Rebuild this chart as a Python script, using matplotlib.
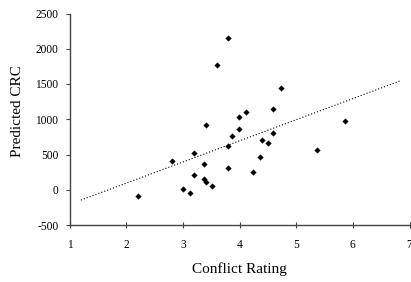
import numpy as np
import matplotlib
matplotlib.use("Agg")
import matplotlib.pyplot as plt

conflict_rating = [3.79, 3.60, 3.40, 3.99, 3.99, 3.87, 3.79, 3.20, 2.80, 3.37,
                   3.79, 3.20, 3.37, 3.40, 3.51, 3.00, 3.12, 2.20, 4.74, 4.59,
                   4.11, 5.86, 4.39, 4.59, 4.50, 5.37, 4.37, 4.24]
predicted_crc = [2150, 1770, 915, 1035, 868, 765, 618, 515, 410, 362,
                 314, 208, 155, 108, 60, 14, -42, -85, 1440, 1143,
                 1100, 978, 712, 812, 665, 557, 458, 255]
trend_x = [1.2, 6.83]
x_ticks = [1, 2, 3, 4, 5, 6, 7]
y_ticks = [-500, 0, 500, 1000, 1500, 2000, 2500]

plt.rcParams['font.family'] = ['Liberation Serif', 'DejaVu Serif']

fig = plt.figure(figsize=(4.11, 2.82), dpi=100)
ax = fig.add_axes([69.5/411, 1-225/282, (409.5-69.5)/411, (225-13.5)/282])

ax.scatter(conflict_rating, predicted_crc, marker='D', s=10, color='black',
           linewidths=0, zorder=3)

coef = np.polyfit(conflict_rating, predicted_crc, 1)
tx = np.array(trend_x)
ax.plot(tx, np.polyval(coef, tx), color='black', linestyle=(0, (1, 1.8)),
        linewidth=0.8)

ax.set_xlim(1, 7)
ax.set_ylim(-500, 2500)
ax.set_xticks(x_ticks)
ax.set_yticks(y_ticks)
ax.set_xticklabels([str(v) for v in x_ticks])
ax.set_yticklabels([str(v) for v in y_ticks])
for s in ['top', 'right']:
    ax.spines[s].set_visible(False)
for s in ['left', 'bottom']:
    ax.spines[s].set_color('#444444')
    ax.spines[s].set_linewidth(1.0)
ax.tick_params(axis='y', direction='out', length=3, width=0.8, color='#444444',
               labelsize=8.3, pad=5)
ax.tick_params(axis='x', direction='inout', length=4, width=0.8, color='#444444',
               labelsize=8.3, pad=8)
ax.set_xlabel('Conflict Rating', fontsize=11, labelpad=8)
ax.set_ylabel('Predicted CRC', fontsize=11)
ax.yaxis.set_label_coords(-0.135, 0.54)

fig.savefig('out.png', dpi=100)
